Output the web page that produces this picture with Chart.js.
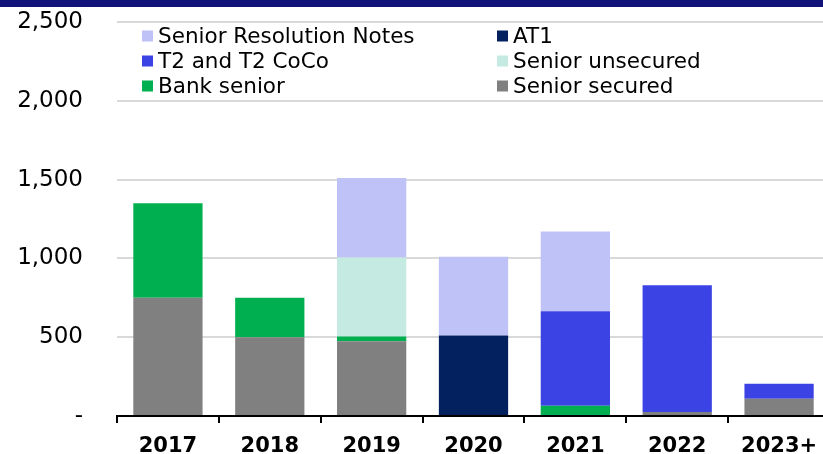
<!DOCTYPE html>
<html>
<head>
<meta charset="utf-8">
<script src="https://cdn.jsdelivr.net/npm/chart.js@4/dist/chart.umd.min.js"></script>
<style>
  html, body { margin: 0; padding: 0; background: #fff; overflow: hidden; }
  #wrap { position: relative; width: 823px; height: 454px; overflow: hidden; }
  #band { position: absolute; left: 0; top: 0; width: 823px; height: 7px; background: #12137a; }
  #graph { position: absolute; left: 0; top: 0; }
</style>
</head>
<body>
<div id="wrap">
  <canvas id="graph" width="830" height="454"></canvas>
  <div id="band"></div>
</div>
<script>
// données
const years = ['2017', '2018', '2019', '2020', '2021', '2022', '2023+'];

const seniorSecured   = [750, 500, 475,   0,   0,  25, 110];
const bankSenior      = [600, 250,  30,   0,  65,   0,   0];
const seniorUnsecured = [  0,   0, 500,   0,   0,   0,   0];
const at1             = [  0,   0,   0, 510,   0,   0,   0];
const t2CoCo          = [  0,   0,   0,   0, 600, 805,  95];
const seniorResNotes  = [  0,   0, 505, 500, 505,   0,   0];

const yTicks = [0, 500, 1000, 1500, 2000, 2500];

// ordre de la légende (2 colonnes)
const legendOrder = ['Senior Resolution Notes', 'AT1', 'T2 and T2 CoCo', 'Senior unsecured', 'Bank senior', 'Senior secured'];

const legendPlugin = {
    id: 'legendeMaison',
    afterDraw(chart) {
        const ctx = chart.ctx;
        ctx.save();
        ctx.font = '21.5px "DejaVu Sans"';
        ctx.textBaseline = 'middle';
        legendOrder.forEach((name, i) => {
            const ds = chart.data.datasets.find(d => d.label === name);
            const col = i % 2;
            const row = Math.floor(i / 2);
            const x = col === 0 ? 142 : 497;
            const y = 36 + row * 25;
            ctx.fillStyle = ds.backgroundColor;
            ctx.fillRect(x, y - 5.5, 11, 11);
            ctx.fillStyle = '#000';
            ctx.fillText(name, x + 16, y + 1);
        });
        ctx.restore();
    }
};

const graph = document.getElementById('graph');

new Chart(graph, {
    type: 'bar',
    data: {
        labels: years,
        datasets: [
            { label: 'Senior secured', data: seniorSecured, backgroundColor: '#808080' },
            { label: 'Bank senior', data: bankSenior, backgroundColor: '#00b050' },
            { label: 'Senior unsecured', data: seniorUnsecured, backgroundColor: '#c5eae1' },
            { label: 'AT1', data: at1, backgroundColor: '#03215f' },
            { label: 'T2 and T2 CoCo', data: t2CoCo, backgroundColor: '#3c43e4' },
            { label: 'Senior Resolution Notes', data: seniorResNotes, backgroundColor: '#bfc2f6' },
        ]
    },
    options: {
        responsive: false,
        animation: false,
        barPercentage: 0.68,
        categoryPercentage: 1,
        layout: { padding: { top: 22, left: 0, right: 0, bottom: 0 } },
        plugins: {
            legend: { display: false },
            tooltip: { enabled: false },
        },
        scales: {
            x: {
                stacked: true,
                border: { display: true, color: '#000', width: 2 },
                grid: {
                    display: true,
                    drawOnChartArea: false,
                    drawTicks: true,
                    tickLength: 7,
                    color: '#000',
                    lineWidth: 2,
                },
                ticks: {
                    color: '#000',
                    padding: 11,
                    font: { family: 'DejaVu Sans', size: 21, weight: 'bold' },
                },
                afterFit(scale) { scale.height = 38; }
            },
            y: {
                stacked: true,
                min: 0,
                max: 2500,
                border: { display: false },
                grid: {
                    color: '#d9d9d9',
                    lineWidth: 2,
                    drawTicks: true,
                    tickLength: 34,
                    tickColor: 'rgba(0,0,0,0)',
                },
                afterBuildTicks(scale) {
                    scale.ticks = yTicks.map(v => ({ value: v }));
                },
                ticks: {
                    color: '#000',
                    padding: 0,
                    font: { family: 'DejaVu Sans', size: 23 },
                    callback: v => v === 0 ? '-' : v.toLocaleString('en-US'),
                },
                afterFit(scale) { scale.width = 117; }
            }
        }
    },
    plugins: [legendPlugin]
});
</script>
</body>
</html>
